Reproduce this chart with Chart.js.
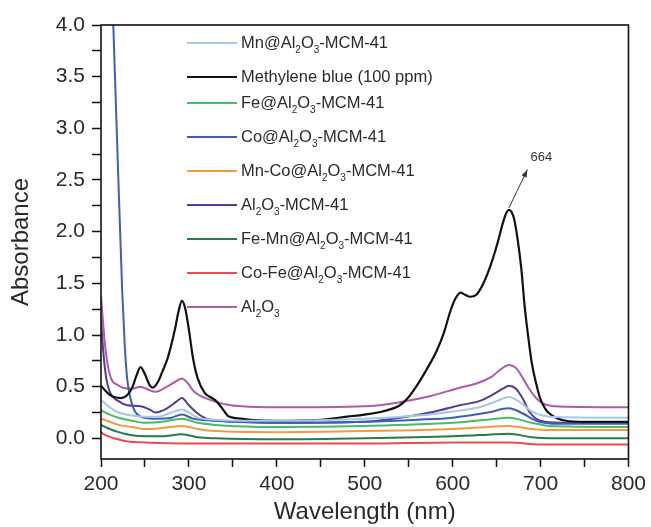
<!DOCTYPE html>
<html>
<head>
<meta charset="utf-8">
<script src="https://cdn.jsdelivr.net/npm/chart.js@4"></script>
<style>
  body { margin: 0; background: #fff; }
  canvas { display: block; }
</style>
</head>
<body>
<canvas id="uv-chart" width="651" height="527"></canvas>
<script>
// UV-vis absorbance spectra
const mnWl   = [200, 210, 220, 235, 250, 265, 280, 292, 300, 310, 330, 360, 400, 500, 560, 600, 630, 650, 664, 675, 690, 710, 800];
const mnAbs  = [0.37, 0.30, 0.25, 0.22, 0.21, 0.21, 0.25, 0.28, 0.25, 0.20, 0.18, 0.17, 0.17, 0.19, 0.22, 0.26, 0.30, 0.36, 0.40, 0.36, 0.26, 0.21, 0.20];

const mbWl   = [200, 205, 210, 215, 223, 230, 236, 240, 245, 250, 255, 259, 265, 270, 276, 284, 288, 292, 296, 300, 305, 310, 318, 324, 330, 337, 344, 350, 359, 370, 400, 450, 480, 500, 520, 540, 550, 560, 570, 582, 590, 597, 603, 609, 614, 620, 627, 635, 645, 652, 657, 661, 664, 667, 670, 674, 678, 682, 686, 690, 695, 699, 705, 710, 720, 729, 750, 800];
const mbAbs  = [0.51, 0.46, 0.42, 0.40, 0.39, 0.42, 0.50, 0.60, 0.69, 0.62, 0.52, 0.49, 0.55, 0.65, 0.78, 1.05, 1.22, 1.33, 1.25, 1.05, 0.76, 0.58, 0.44, 0.40, 0.37, 0.30, 0.22, 0.20, 0.19, 0.18, 0.17, 0.18, 0.21, 0.23, 0.26, 0.32, 0.40, 0.52, 0.66, 0.85, 1.02, 1.22, 1.35, 1.41, 1.39, 1.37, 1.39, 1.50, 1.72, 1.92, 2.08, 2.18, 2.21, 2.19, 2.12, 1.92, 1.65, 1.27, 0.98, 0.73, 0.53, 0.40, 0.29, 0.24, 0.19, 0.17, 0.16, 0.16];

const baseWl = [200, 210, 220, 235, 250, 270, 292, 310, 330, 400, 500, 600, 640, 664, 690, 710, 800];
const feAbs   = [0.27, 0.23, 0.20, 0.17, 0.15, 0.16, 0.19, 0.15, 0.13, 0.11, 0.12, 0.15, 0.18, 0.20, 0.15, 0.12, 0.11];
const mncoAbs = [0.19, 0.16, 0.13, 0.11, 0.09, 0.10, 0.12, 0.09, 0.07, 0.06, 0.07, 0.09, 0.11, 0.12, 0.09, 0.08, 0.08];
const femnAbs = [0.13, 0.09, 0.06, 0.03, 0.02, 0.02, 0.04, 0.01, 0.00, -0.01, 0.00, 0.02, 0.035, 0.045, 0.01, 0.00, 0.00];

const coWl   = [200, 207, 214, 219, 224, 227, 230, 234, 238, 245, 260, 280, 292, 305, 330, 400, 500, 560, 600, 640, 664, 680, 695, 720, 800];
const coAbs  = [7.5, 5.8, 4.0, 2.7, 1.45, 0.9, 0.56, 0.37, 0.27, 0.21, 0.19, 0.20, 0.23, 0.19, 0.17, 0.15, 0.16, 0.18, 0.20, 0.25, 0.29, 0.24, 0.17, 0.14, 0.14];

const mcmWl  = [200, 203, 206, 210, 220, 230, 245, 255, 262, 275, 285, 292, 300, 310, 320, 335, 360, 400, 500, 540, 580, 608, 630, 645, 657, 664, 672, 680, 687, 695, 705, 730, 800];
const mcmAbs = [1.15, 0.80, 0.58, 0.45, 0.36, 0.32, 0.31, 0.28, 0.25, 0.29, 0.35, 0.39, 0.32, 0.24, 0.19, 0.17, 0.16, 0.15, 0.16, 0.20, 0.26, 0.32, 0.36, 0.42, 0.48, 0.51, 0.48, 0.38, 0.26, 0.19, 0.16, 0.15, 0.15];

const cofeWl  = [200, 205, 215, 230, 250, 300, 400, 500, 600, 664, 700, 800];
const cofeAbs = [0.06, 0.03, 0.00, -0.03, -0.04, -0.05, -0.05, -0.05, -0.04, -0.04, -0.06, -0.06];

const aloWl  = [200, 203, 206, 211, 218, 225, 235, 245, 254, 262, 275, 285, 292, 298, 305, 313, 325, 341, 360, 400, 500, 540, 575, 608, 627, 645, 655, 664, 672, 680, 687, 695, 702, 715, 800];
const aloAbs = [1.38, 1.05, 0.80, 0.59, 0.52, 0.49, 0.48, 0.50, 0.47, 0.45, 0.50, 0.55, 0.58, 0.54, 0.46, 0.41, 0.37, 0.33, 0.31, 0.30, 0.31, 0.35, 0.41, 0.49, 0.53, 0.60, 0.67, 0.71, 0.68, 0.58, 0.48, 0.39, 0.34, 0.31, 0.30];

// legend names, "_x" means subscript x
const seriesNames = [
  'Mn@Al_2O_3-MCM-41',
  'Methylene blue (100 ppm)',
  'Fe@Al_2O_3-MCM-41',
  'Co@Al_2O_3-MCM-41',
  'Mn-Co@Al_2O_3-MCM-41',
  'Al_2O_3-MCM-41',
  'Fe-Mn@Al_2O_3-MCM-41',
  'Co-Fe@Al_2O_3-MCM-41',
  'Al_2O_3'
];
const seriesColors = ['#a4c8ea', '#111111', '#4cb86a', '#3d5fb5', '#f39a3c', '#553c9a', '#2c7a4b', '#ec4a4f', '#b05aa9'];
const seriesWl  = [mnWl, mbWl, baseWl, coWl, baseWl, mcmWl, baseWl, cofeWl, aloWl];
const seriesAbs = [mnAbs, mbAbs, feAbs, coAbs, mncoAbs, mcmAbs, femnAbs, cofeAbs, aloAbs];

const xMajor = [200, 300, 400, 500, 600, 700, 800];
const xMinor = [250, 350, 450, 550, 650, 750];
const yMajor = [0.0, 0.5, 1.0, 1.5, 2.0, 2.5, 3.0, 3.5, 4.0];
const yMinor = [0.25, 0.75, 1.25, 1.75, 2.25, 2.75, 3.25, 3.75];

// peak annotation
const peakText = '664';
const peakWl = 664, peakAbs = 2.23;
const arrowTipWl = 685, arrowTipAbs = 2.60;
const peakTextWl = 701, peakTextAbs = 2.72;

const FONT = "'Liberation Sans', Arial, Helvetica, sans-serif";
const TEXT = '#2a2a2a';

const datasets = seriesNames.map((name, i) => ({
  label: name.replace(/_/g, ''),
  data: seriesWl[i].map((w, j) => ({x: w, y: seriesAbs[i][j]})),
  borderColor: seriesColors[i],
  borderWidth: i === 1 ? 2.2 : 2,
  showLine: true,
  pointRadius: 0,
  cubicInterpolationMode: 'monotone',
  fill: false
}));

function drawRich(ctx, text, x, y, size) {
  // draws text with "_x" subscripts, middle baseline
  let cx = x;
  for (let k = 0; k < text.length; k++) {
    let ch = text[k];
    if (ch === '_' && k + 1 < text.length) {
      ch = text[++k];
      ctx.font = Math.round(size * 0.62) + 'px ' + FONT;
      ctx.fillText(ch, cx, y + size * 0.42);
    } else {
      ctx.font = size + 'px ' + FONT;
      ctx.fillText(ch, cx, y);
    }
    cx += ctx.measureText(ch).width;
  }
}

const framePlugin = {
  id: 'frame',
  afterDatasetsDraw(chart) {
    const {ctx, chartArea: a, scales} = chart;
    ctx.save();
    ctx.strokeStyle = '#111';
    ctx.lineWidth = 1.6;
    ctx.strokeRect(a.left, a.top, a.right - a.left, a.bottom - a.top);

    // legend, inside plot area
    let y = 43;
    ctx.textBaseline = 'middle';
    ctx.textAlign = 'left';
    seriesNames.forEach((name, i) => {
      ctx.strokeStyle = seriesColors[i];
      ctx.lineWidth = 2;
      ctx.beginPath();
      ctx.moveTo(187, y);
      ctx.lineTo(237, y);
      ctx.stroke();
      ctx.fillStyle = TEXT;
      drawRich(ctx, name, 241, y, 16.5);
      y += name.includes('_') ? 34 : 26;
    });

    // peak arrow + label
    const x0 = scales.x.getPixelForValue(peakWl), y0 = scales.y.getPixelForValue(peakAbs);
    const x1 = scales.x.getPixelForValue(arrowTipWl), y1 = scales.y.getPixelForValue(arrowTipAbs);
    ctx.strokeStyle = '#333';
    ctx.fillStyle = '#333';
    ctx.lineWidth = 1;
    ctx.beginPath();
    ctx.moveTo(x0, y0);
    ctx.lineTo(x1, y1);
    ctx.stroke();
    const ang = Math.atan2(y1 - y0, x1 - x0);
    ctx.beginPath();
    ctx.moveTo(x1, y1);
    ctx.lineTo(x1 - 8 * Math.cos(ang - 0.35), y1 - 8 * Math.sin(ang - 0.35));
    ctx.lineTo(x1 - 8 * Math.cos(ang + 0.35), y1 - 8 * Math.sin(ang + 0.35));
    ctx.closePath();
    ctx.fill();
    ctx.font = '13px ' + FONT;
    ctx.textAlign = 'center';
    ctx.fillText(peakText, scales.x.getPixelForValue(peakTextWl), scales.y.getPixelForValue(peakTextAbs));
    ctx.restore();
  }
};

new Chart(document.getElementById('uv-chart'), {
  type: 'scatter',
  data: { datasets },
  options: {
    responsive: false,
    animation: false,
    events: [],
    layout: { padding: { top: 25, right: 22, left: 0, bottom: 0 } },
    plugins: { legend: { display: false }, tooltip: { enabled: false } },
    scales: {
      x: {
        type: 'linear',
        min: 200, max: 800,
        border: { display: false },
        grid: { drawOnChartArea: false, drawTicks: true, tickLength: 8, tickWidth: 1.5, tickColor: '#111' },
        afterBuildTicks: s => { s.ticks = xMajor.concat(xMinor).sort((a, b) => a - b).map(v => ({value: v})); },
        afterFit: s => { s.height = 68; },
        ticks: {
          autoSkip: false, maxRotation: 0, padding: 5,
          color: TEXT, font: { family: FONT, size: 21 },
          callback: v => xMajor.includes(v) ? String(v) : ''
        },
        title: { display: true, text: 'Wavelength (nm)', color: TEXT, font: { family: FONT, size: 24 }, padding: { top: 0, bottom: 0 } }
      },
      y: {
        min: -0.2, max: 4.0,
        border: { display: false },
        grid: { drawOnChartArea: false, drawTicks: true, tickLength: 9, tickWidth: 1.5, tickColor: '#111' },
        afterBuildTicks: s => { s.ticks = yMajor.concat(yMinor).sort((a, b) => a - b).map(v => ({value: v})); },
        afterFit: s => { s.width = 101; },
        ticks: {
          autoSkip: false, padding: 7,
          color: TEXT, font: { family: FONT, size: 21 },
          callback: v => yMajor.includes(v) ? v.toFixed(1) : ''
        },
        title: { display: true, text: 'Absorbance', color: TEXT, font: { family: FONT, size: 24 }, padding: { top: 7, bottom: 0 } }
      }
    }
  },
  plugins: [framePlugin]
});
</script>
</body>
</html>
